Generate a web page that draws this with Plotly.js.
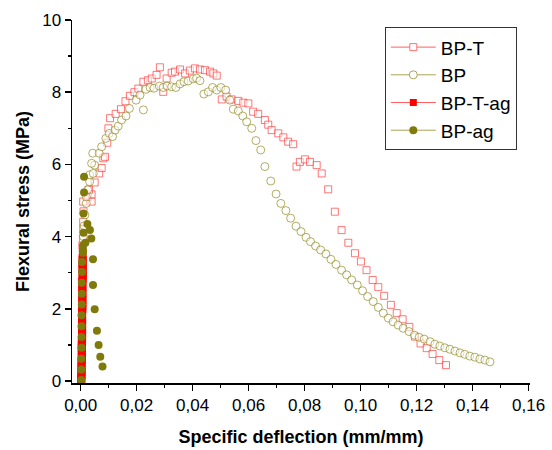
<!DOCTYPE html>
<html><head><meta charset="utf-8">
<script src="https://cdn.plot.ly/plotly-3.0.1.min.js"></script>
<style>html,body{margin:0;padding:0;background:#fff}#chart{width:552px;height:450px}</style>
</head><body><div id="chart"></div>
<script>
const seriesNames = ["BP-T", "BP", "BP-T-ag", "BP-ag"];
const xTitle = "Specific deflection (mm/mm)";
const yTitle = "Flexural stress (MPa)";

const bptX = [0.0006,0.0008,0.0009,0.0009,0.0010,0.0009,0.0025,0.0039,0.0039,0.0030,0.0050,0.0066,0.0075,0.0081,0.0087,0.0095,0.0099,0.0105,0.0125,0.0144,0.0160,0.0176,0.0192,0.0206,0.0224,0.0240,0.0254,0.0271,0.0283,0.0295,0.0307,0.0325,0.0337,0.0355,0.0373,0.0390,0.0408,0.0426,0.0444,0.0462,0.0474,0.0486,0.0504,0.0521,0.0539,0.0563,0.0581,0.0599,0.0616,0.0634,0.0658,0.0670,0.0682,0.0706,0.0724,0.0741,0.0759,0.0771,0.0783,0.0801,0.0819,0.0843,0.0861,0.0884,0.0908,0.0932,0.0956,0.0980,0.1001,0.1021,0.1043,0.1063,0.1084,0.1108,0.1129,0.1150,0.1174,0.1194,0.1214,0.1236,0.1257,0.1281,0.1305];
const bptY = [3.75,3.95,4.20,4.41,4.70,4.97,5.10,4.97,5.17,5.30,5.50,5.75,5.90,6.17,6.21,6.60,7.00,7.28,7.40,7.53,7.75,7.90,8.00,8.10,8.29,8.33,8.38,8.48,8.69,8.01,8.38,8.54,8.57,8.63,8.52,8.60,8.66,8.63,8.61,8.57,8.52,8.46,7.80,7.88,7.80,7.76,7.71,7.69,7.46,7.40,7.23,7.10,6.95,6.86,6.75,6.63,6.56,5.94,6.07,6.14,6.07,5.98,5.75,5.31,4.69,4.18,3.83,3.54,3.31,3.07,2.80,2.60,2.36,2.11,1.88,1.71,1.50,1.23,1.04,0.91,0.75,0.58,0.44];

const bpX = [0.0005,0.0006,0.0008,0.0010,0.0012,0.0015,0.0020,0.0020,0.0025,0.0032,0.0032,0.0045,0.0050,0.0039,0.0043,0.0066,0.0075,0.0090,0.0102,0.0114,0.0123,0.0134,0.0146,0.0162,0.0174,0.0198,0.0212,0.0224,0.0233,0.0248,0.0262,0.0281,0.0295,0.0309,0.0325,0.0340,0.0355,0.0369,0.0384,0.0402,0.0414,0.0426,0.0440,0.0456,0.0471,0.0486,0.0501,0.0518,0.0533,0.0545,0.0563,0.0579,0.0593,0.0611,0.0626,0.0643,0.0658,0.0679,0.0698,0.0715,0.0733,0.0750,0.0769,0.0787,0.0805,0.0821,0.0839,0.0857,0.0876,0.0894,0.0912,0.0932,0.0950,0.0968,0.0988,0.1007,0.1025,0.1045,0.1063,0.1081,0.1099,0.1116,0.1134,0.1152,0.1173,0.1192,0.1209,0.1227,0.1248,0.1265,0.1283,0.1301,0.1319,0.1337,0.1355,0.1372,0.1390,0.1408,0.1426,0.1444,0.1462];
const bpY = [2.80,3.20,3.60,4.00,4.30,4.60,4.92,5.10,5.30,5.52,5.71,5.75,5.98,6.03,6.31,6.31,6.49,6.72,6.86,6.77,6.95,7.06,7.23,7.34,7.55,7.78,7.92,7.51,8.08,8.13,8.11,8.17,8.13,8.17,8.15,8.13,8.23,8.29,8.31,8.37,8.39,8.32,7.95,8.01,8.13,8.06,8.13,8.06,7.78,7.53,7.48,7.34,7.18,7.00,6.66,6.40,5.94,5.54,5.18,4.92,4.72,4.51,4.29,4.14,3.98,3.86,3.74,3.63,3.52,3.37,3.23,3.07,2.94,2.80,2.66,2.50,2.34,2.20,2.04,1.88,1.74,1.64,1.55,1.46,1.37,1.27,1.21,1.16,1.09,1.02,0.97,0.92,0.88,0.83,0.78,0.74,0.69,0.66,0.61,0.58,0.53];

const bptagX = [0.0002,0.0002,0.0002,0.0003,0.0003,0.0003,0.0003,0.0003,0.0004,0.0004,0.0004,0.0004,0.0004,0.0004,0.0004,0.0005,0.0005,0.0005,0.0005,0.0005,0.0005,0.0005,0.0005,0.0005,0.0005,0.0006,0.0006,0.0006,0.0006,0.0006,0.0006,0.0006,0.0006,0.0006,0.0006,0.0007,0.0007,0.0007,0.0007,0.0007,0.0007,0.0007,0.0007];
const bptagY = [0.00,0.05,0.10,0.17,0.25,0.33,0.42,0.50,0.58,0.67,0.75,0.83,0.92,1.00,1.08,1.17,1.25,1.33,1.42,1.50,1.58,1.67,1.75,1.83,1.92,2.00,2.08,2.17,2.25,2.33,2.42,2.50,2.58,2.67,2.75,2.83,2.92,3.00,3.08,3.17,3.25,3.35,3.42];

const bpagX = [0.0002,0.0002,0.0002,0.0003,0.0003,0.0003,0.0003,0.0004,0.0004,0.0004,0.0005,0.0005,0.0008,0.0008,0.0008,0.0010,0.0010,0.0012,0.0012,0.0017,0.0024,0.0033,0.0038,0.0044,0.0044,0.0050,0.0058,0.0064,0.0070,0.0078];
const bpagY = [0.03,0.32,0.62,0.92,1.22,1.52,1.82,2.12,2.42,2.72,3.02,3.30,3.55,3.63,3.75,4.11,4.64,5.22,5.66,3.83,4.35,4.18,3.95,3.37,2.66,1.99,1.39,1.00,0.67,0.40];

const cBPT = 'rgba(255,30,30,0.6)';
const cBP = 'rgba(128,120,0,0.6)';
const cBPTag = '#ff0000';
const cBPag = '#7f7a0a';

const data = [
  {x: bptX, y: bptY, type: 'scatter', mode: 'markers', showlegend: false,
   marker: {symbol: 'square', size: 7, color: 'rgba(255,255,255,0.55)', line: {color: cBPT, width: 1}}},
  {x: bpX, y: bpY, type: 'scatter', mode: 'markers', showlegend: false,
   marker: {symbol: 'circle', size: 8, color: 'rgba(255,255,255,0.55)', line: {color: cBP, width: 1}}},
  {x: bptagX, y: bptagY, type: 'scatter', mode: 'markers', showlegend: false,
   marker: {symbol: 'square', size: 8, color: cBPTag, line: {width: 0}}},
  {x: bpagX, y: bpagY, type: 'scatter', mode: 'markers', showlegend: false,
   marker: {symbol: 'circle', size: 8, color: cBPag, line: {width: 0}}},
  {x: [null], y: [null], type: 'scatter', mode: 'lines+markers', name: seriesNames[0], legendgroup: 'a',
   line: {color: '#ff6060', width: 1}, marker: {symbol: 'square', size: 7, color: '#fff', line: {color: '#ff7070', width: 1}}},
  {x: [null], y: [null], type: 'scatter', mode: 'lines+markers', name: seriesNames[1], legendgroup: 'b',
   line: {color: '#aaa458', width: 1}, marker: {symbol: 'circle', size: 8, color: '#fff', line: {color: '#aaa458', width: 1}}},
  {x: [null], y: [null], type: 'scatter', mode: 'lines+markers', name: seriesNames[2], legendgroup: 'c',
   line: {color: '#ff6060', width: 1}, marker: {symbol: 'square', size: 7, color: cBPTag}},
  {x: [null], y: [null], type: 'scatter', mode: 'lines+markers', name: seriesNames[3], legendgroup: 'd',
   line: {color: '#aaa458', width: 1}, marker: {symbol: 'circle', size: 8, color: cBPag}}
];

const fontFam = '"Liberation Sans", Arial, Helvetica, sans-serif';
const layout = {
  width: 552, height: 450,
  margin: {l: 72, r: 22, t: 20, b: 67},
  paper_bgcolor: '#fff', plot_bgcolor: '#fff',
  separators: ',.',
  font: {family: fontFam, color: '#000', size: 16},
  showlegend: true,
  legend: {x: 0.683, y: 0.98, xanchor: 'left', yanchor: 'top', bgcolor: '#fff',
    bordercolor: '#333', borderwidth: 1, font: {size: 19, family: fontFam},
    tracegroupgap: 0, traceorder: 'grouped', itemwidth: 45},
  xaxis: {range: [-0.0031, 0.1605], dtick: 0.02, tick0: 0, tickformat: '.2f',
    showline: true, linecolor: '#000', linewidth: 1.5, mirror: false,
    ticks: 'outside', ticklen: 6, tickwidth: 1.5, tickcolor: '#000',
    minor: {dtick: 0.01, ticklen: 3, tickwidth: 1.5, tickcolor: '#000', ticks: 'outside'},
    showgrid: false, zeroline: false, tickfont: {size: 17},
    title: {text: '<b>' + xTitle + '</b>', font: {size: 18}, standoff: 16}},
  yaxis: {range: [-0.055, 10], dtick: 2, tick0: 0,
    showline: true, linecolor: '#000', linewidth: 1.5, mirror: false,
    ticks: 'outside', ticklen: 6, tickwidth: 1.5, tickcolor: '#000',
    minor: {dtick: 1, ticklen: 3, tickwidth: 1.5, tickcolor: '#000', ticks: 'outside'},
    showgrid: false, zeroline: false, tickfont: {size: 17},
    title: {text: '<b>' + yTitle + '</b>', font: {size: 18}, standoff: 8}}
};

Plotly.newPlot('chart', data, layout, {displayModeBar: false, staticPlot: true});
</script></body></html>
